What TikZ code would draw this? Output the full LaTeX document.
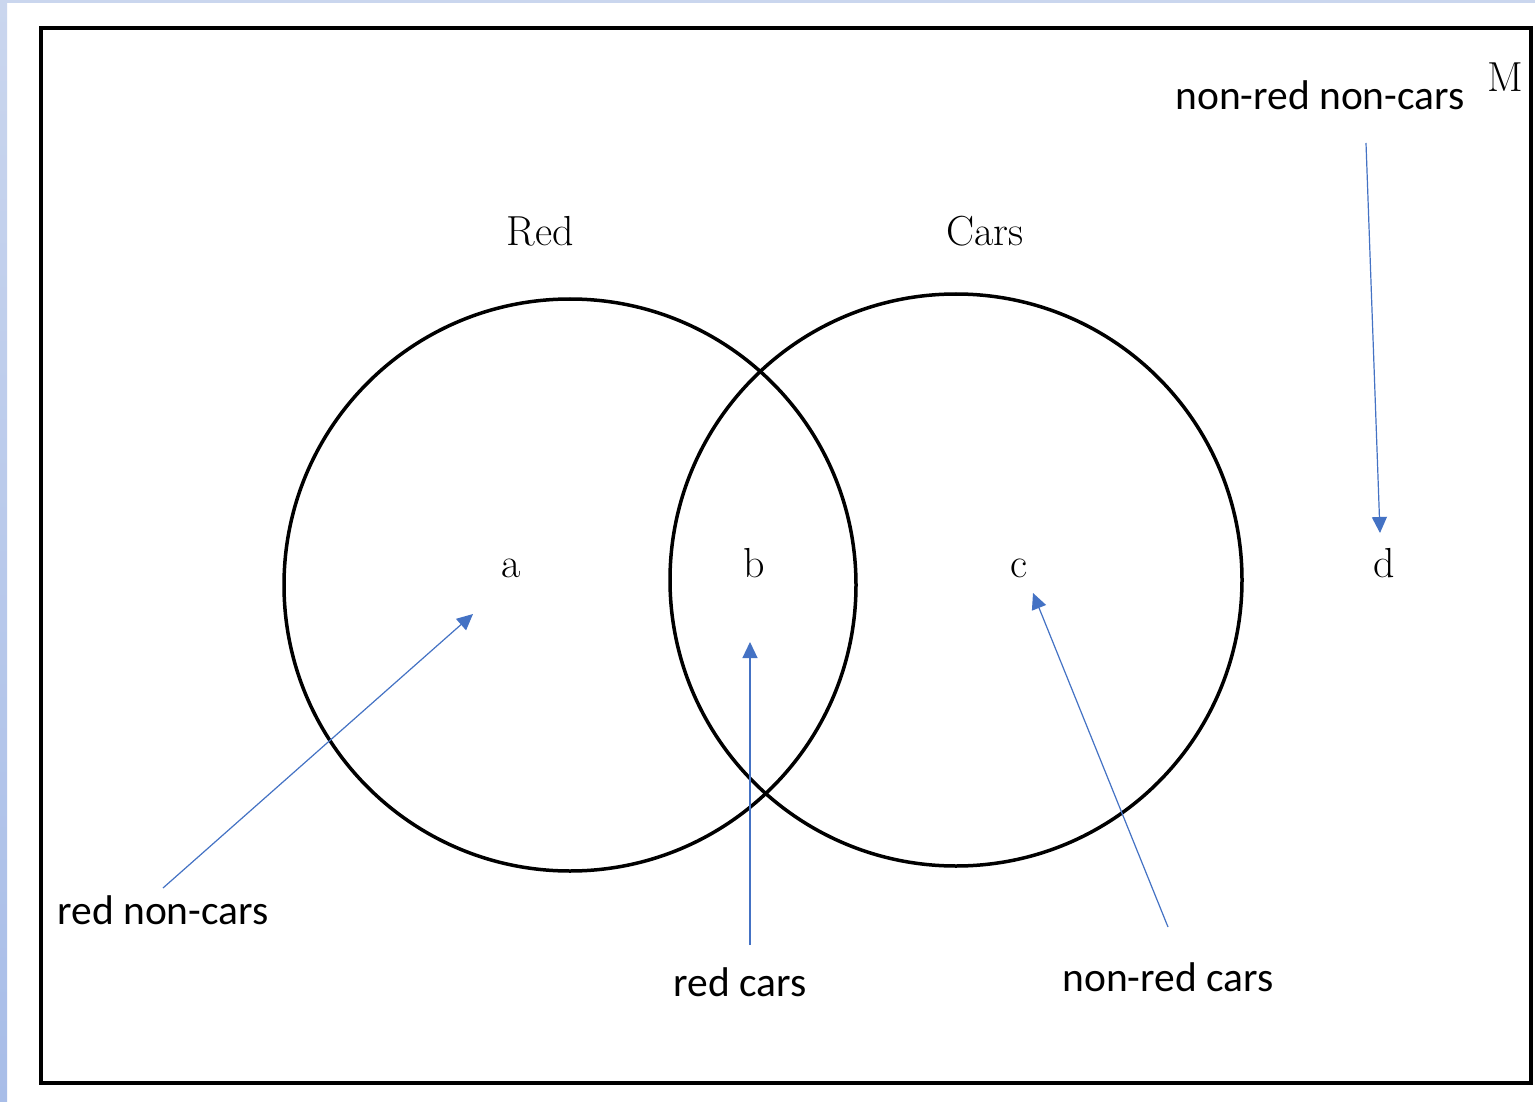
\documentclass[tikz,border=0pt]{standalone}
\usepackage{fontspec}
\newfontfamily\calib{Carlito}
\usetikzlibrary{arrows.meta}
\definecolor{arrowblue}{HTML}{4472C4}
\definecolor{bandtop}{HTML}{CAD6EE}
\definecolor{bandbot}{HTML}{A8BDE8}
\tikzset{
  setcircle/.style={draw=black, line width=3.5pt, circle, minimum size=572pt, inner sep=0pt},
  serifl/.style={font=\fontsize{42}{50}\selectfont, inner sep=0pt, anchor=base},
  annot/.style={font=\calib\fontsize{41.5}{50}\selectfont, inner sep=0pt},
  pointer/.style={draw=arrowblue, line width=1.2pt, -{Triangle[length=16pt,width=15pt]}}
}
\begin{document}
\begin{tikzpicture}[x=1pt,y=-1pt]
\useasboundingbox (0,0) rectangle (1535,1102);
\fill[white] (0,0) rectangle (1535,1102);
\shade[top color=bandtop, bottom color=bandbot] (0,0) rectangle (7,1102);
\fill[bandtop] (0,0) rectangle (1535,3);
\draw[line width=4pt] (41,28) rectangle (1531,1083);
\node[setcircle] (red) at (570,585) {};
\node[setcircle] (cars) at (956,580) {};
\node[serifl] (redlbl) at (540,246) {Red};
\node[serifl] (carslbl) at (985,246) {Cars};
\node[serifl] (a) at (511,577) {a};
\node[serifl] (b) at (754,577) {b};
\node[serifl] (c) at (1019,577) {c};
\node[serifl] (d) at (1384,577) {d};
\node[serifl] (M) at (1505,92) {M};
\node[annot] (nrnc) at (1320,95) {non-red non-cars};
\node[annot] (rnc) at (163,910) {red non-cars};
\node[annot] (rc) at (740,982) {red cars};
\node[annot] (nrc) at (1168,977) {non-red cars};
\coordinate (s1) at (163,888);
\coordinate (t1) at (473,614);
\coordinate (s2) at (750,945);
\coordinate (t2) at (750,642);
\coordinate (s3) at (1168,927);
\coordinate (t3) at (1033,593);
\coordinate (s4) at (1366,143);
\coordinate (t4) at (1380,533);
\draw[pointer] (s1) -- (t1);
\draw[pointer] (s2) -- (t2);
\draw[pointer] (s3) -- (t3);
\draw[pointer] (s4) -- (t4);
\end{tikzpicture}
\end{document}
